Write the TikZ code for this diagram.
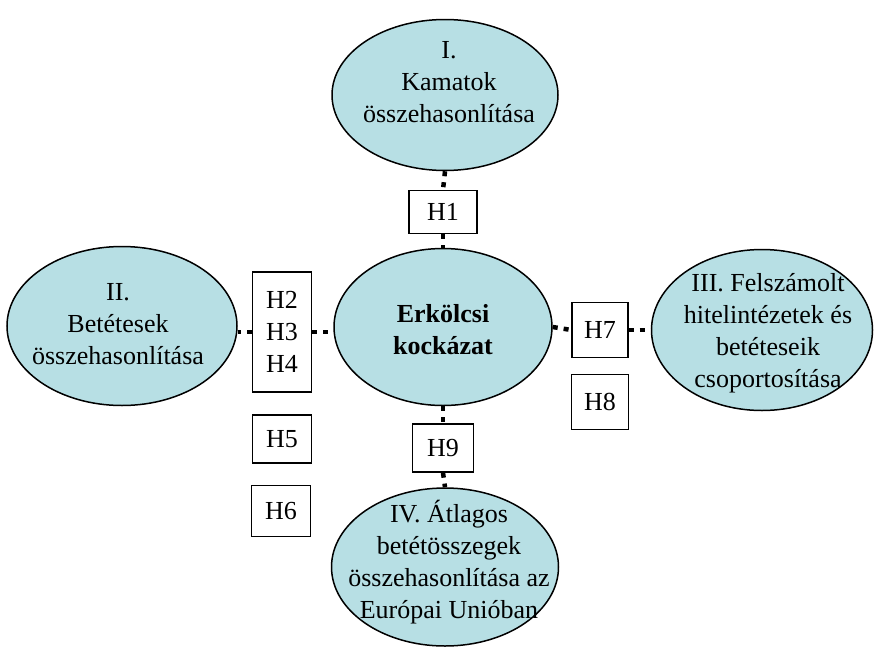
\documentclass[tikz,border=0pt]{standalone}
\usepackage{fontspec}
\setmainfont{Liberation Serif}
\usepackage{tikz}
\usetikzlibrary{shapes.geometric, positioning, calc}
\definecolor{myteal}{RGB}{183,223,228}
\definecolor{mydark}{RGB}{0,0,0}
\tikzset{
  topic/.style={ellipse, draw=mydark, fill=myteal, line width=1.5pt,
    inner sep=0pt},
  topictext/.style={inner sep=0pt, align=center,
    font=\fontsize{26}{32}\selectfont},
  hyp/.style={rectangle, draw=mydark, fill=white, line width=1.4pt,
    inner sep=0pt, align=center, font=\fontsize{26}{32}\selectfont},
  dotline/.style={line width=4.5pt, color=mydark, dash pattern=on 5pt off 6pt}
}
\begin{document}
\begin{tikzpicture}[x=1pt, y=-1pt]
  \useasboundingbox (0,0) rectangle (875,648);
  % Topics
  \node[topic, minimum width=226, minimum height=151] (e1) at (445,95) {};
  \node[topic, minimum width=230, minimum height=159] (e2) at (122,326) {};
  \node[topic, minimum width=218, minimum height=157] (ec) at (443,327) {};
  \node[topic, minimum width=221, minimum height=161] (e3) at (762,330) {};
  \node[topic, minimum width=227, minimum height=158] (e4) at (445,567) {};

  \node[topictext] (t1) at (449,82) {I.\\Kamatok\\összehasonlítása};
  \node[topictext] (t2) at (118,324) {II.\\Betétesek\\összehasonlítása};
  \node[topictext, font=\fontsize{26}{32}\selectfont\bfseries] (tc) at (443,330)
       {Erkölcsi\\kockázat};
  \node[topictext] (t3) at (768,333) {III. Felszámolt\\hitelintézetek és\\betéteseik\\csoportosítása};
  \node[topictext] (t4) at (449,562) {IV. Átlagos\\betétösszegek\\összehasonlítása az\\Európai Unióban};

  % Hypotheses
  \node[hyp, minimum width=68, minimum height=43] (h1) at (443,212) {H1};
  \node[hyp, minimum width=59, minimum height=120] (h2) at (282,332) {H2\\H3\\H4};
  \node[hyp, minimum width=59, minimum height=48] (h5) at (282,439) {H5};
  \node[hyp, minimum width=59, minimum height=51] (h6) at (281,511) {H6};
  \node[hyp, minimum width=56, minimum height=55] (h7) at (600,330) {H7};
  \node[hyp, minimum width=57, minimum height=55] (h8) at (600,402) {H8};
  \node[hyp, minimum width=61, minimum height=48] (h9) at (443,448) {H9};

  % Links
  \draw[dotline] (e1.south) -- (h1.north);
  \draw[dotline] (h1.south) -- (ec.north);
  \draw[dotline] (ec.south) -- (h9.north);
  \draw[dotline] (h9.south) -- (e4.north);
  \draw[dotline] (h2.west) -- (h2.west -| e2.east);
  \draw[dotline] (h2.east) -- (h2.east -| ec.west);
  \draw[dotline] (ec.east) -- (h7.west);
  \draw[dotline] (h7.east) -- (h7.east -| e3.west);
\end{tikzpicture}
\end{document}
